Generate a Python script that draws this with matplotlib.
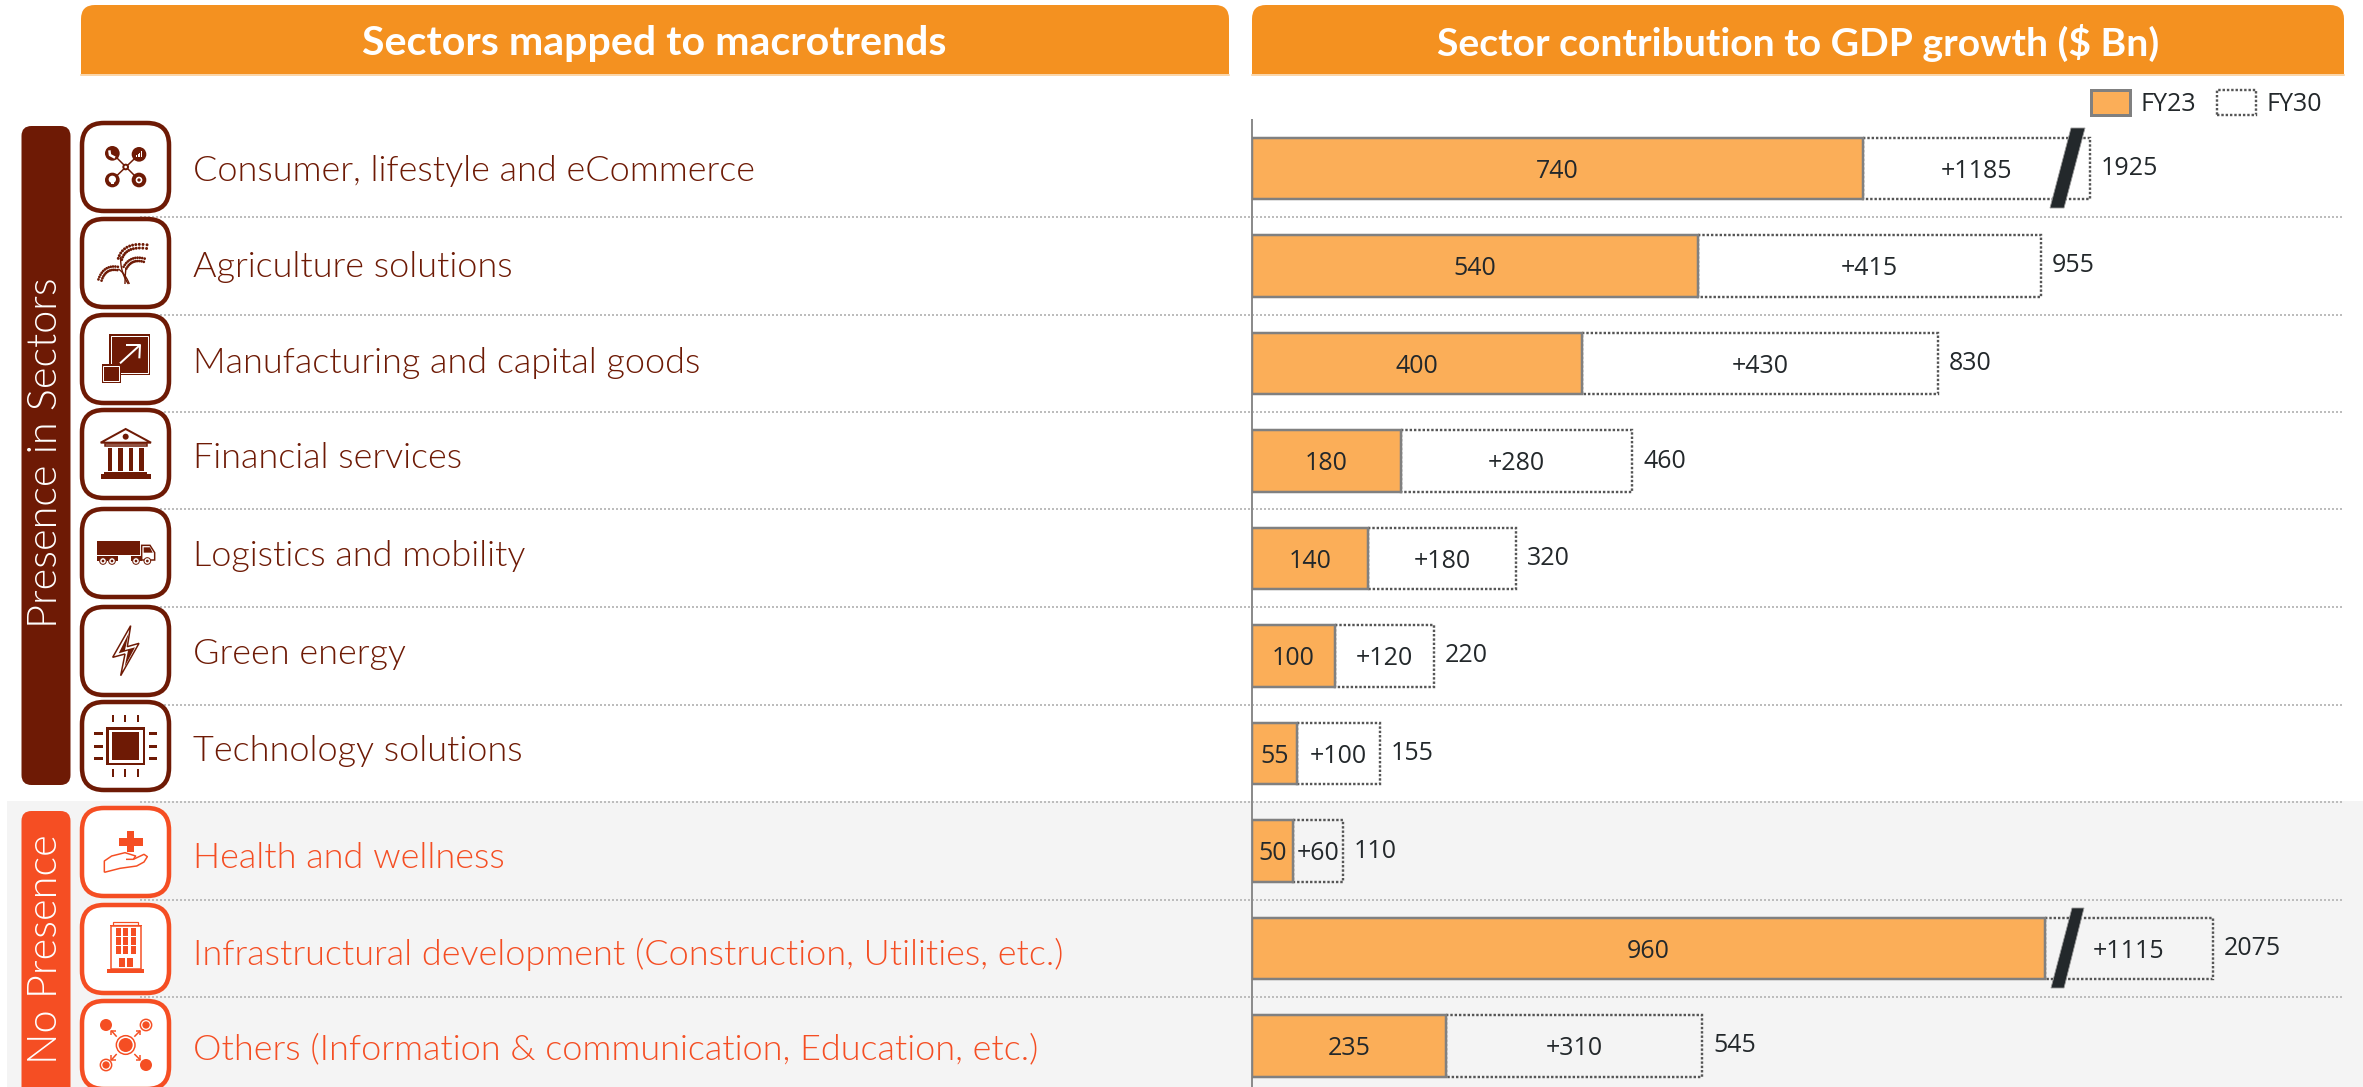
import numpy as np
import matplotlib
matplotlib.use("Agg")
import matplotlib.pyplot as plt
from matplotlib.patches import Rectangle, FancyBboxPatch, Circle, Polygon, PathPatch, Patch
from matplotlib.path import Path
from matplotlib.transforms import Affine2D

# ---------- data ----------
categories = ["Consumer, lifestyle and eCommerce", "Agriculture solutions",
              "Manufacturing and capital goods", "Financial services",
              "Logistics and mobility", "Green energy", "Technology solutions",
              "Health and wellness", "Infrastructural development (Construction, Utilities, etc.)",
              "Others (Information & communication, Education, etc.)"]
fy23 = [740, 540, 400, 180, 140, 100, 55, 50, 960, 235]
increment = [1185, 415, 430, 280, 180, 120, 100, 60, 1115, 310]
fy30 = [1925, 955, 830, 460, 320, 220, 155, 110, 2075, 545]
# the two broken bars are drawn shorter than their true increment
drawn_increment = [274, 415, 430, 280, 180, 120, 100, 60, 203, 310]
group_labels = ["Presence in Sectors", "No Presence"]
headers = ["Sectors mapped to macrotrends", "Sector contribution to GDP growth ($ Bn)"]
series_names = ["FY23", "FY30"]

# ---------- style ----------
W, H = 2363, 1087
DARK = "#6E1A05"
RED = "#F54E23"
HEAD = "#F49120"
BAR = "#FBAE58"
EDGE = "#808080"
INK = "#23282B"
GRID = "#BDBDBD"
LABEL_FONT = ["Lato", "DejaVu Sans"]
VALUE_FONT = ["Open Sans", "DejaVu Sans"]
PX = 0.72

fig = plt.figure(figsize=(W / 100, H / 100), dpi=100, facecolor="white")
pix = fig.add_axes([0, 0, 1, 1], zorder=0)
pix.set_xlim(0, W)
pix.set_ylim(H, 0)
pix.axis("off")

# background band and grid
pix.add_patch(Rectangle((7, 801), W - 7, H - 801, fc="#F4F4F4", ec="none", zorder=0))
for gy in [217, 314.5, 412, 509, 607, 704.5, 802, 900, 997]:
    pix.plot([140, 2342], [gy, gy], color=GRID, lw=2 * PX, ls=(0, (1, 1)), zorder=1)


# headers (rounded top corners only)
def header(x0, x1, y0, y1, r=14):
    k = Path.CURVE3
    verts = [(x0, y1), (x0, y0 + r), (x0, y0), (x0 + r, y0), (x1 - r, y0), (x1, y0), (x1, y0 + r), (x1, y1), (x0, y1)]
    codes = [Path.MOVETO, Path.LINETO, k, k, Path.LINETO, k, k, Path.LINETO, Path.CLOSEPOLY]
    pix.add_patch(PathPatch(Path(verts, codes), fc=HEAD, ec="none", zorder=3))
    pix.plot([x0, x1], [y1 + 0.5, y1 + 0.5], color="#F9C98F", lw=1.5 * PX, zorder=3)


header(81, 1229, 5, 74)
header(1252, 2344, 5, 74)
pix.text(654, 43, headers[0], color="white", fontsize=29.6, fontweight="bold",
         family=LABEL_FONT, ha="center", va="center", zorder=4)
pix.text(1798, 43, headers[1], color="white", fontsize=28.2, fontweight="bold",
         family=LABEL_FONT, ha="center", va="center", zorder=4)

# side tabs
pix.add_patch(FancyBboxPatch((21.5, 126), 49, 659, boxstyle="round,pad=0,rounding_size=10",
                             fc=DARK, ec="none", zorder=3))
pix.add_patch(FancyBboxPatch((21.5, 811), 49, 300, boxstyle="round,pad=0,rounding_size=10",
                             fc=RED, ec="none", zorder=3))
pix.text(46, 453, group_labels[0], color="white", rotation=90, fontsize=29.8, fontweight=300,
         family=LABEL_FONT, ha="center", va="center", zorder=4)
pix.text(46, 949, group_labels[1], color="white", rotation=90, fontsize=30, fontweight=300,
         family=LABEL_FONT, ha="center", va="center", zorder=4)

# icon frames and category labels
box_tops = [121, 217, 313, 408, 507, 605, 700, 806, 903, 999]
label_y = [171, 267, 363, 458, 556, 654, 751, 858, 954, 1049]
for i, (name, top, ly) in enumerate(zip(categories, box_tops, label_y)):
    c = DARK if i < 7 else RED
    pix.add_patch(FancyBboxPatch((82, top + 2), 87, 88, boxstyle="round,pad=0,rounding_size=22",
                                 fc="white", ec=c, lw=4.5 * PX, zorder=3))
    pix.text(193, ly, name, color=c, fontsize=25.9, fontweight=300, family=LABEL_FONT,
             ha="left", va="center", zorder=4)


# ---------- icons, drawn in 3x-zoom coordinates ----------
def tf(oy):
    return Affine2D().scale(1 / 3).translate(70, oy) + pix.transData


def rect(t, x0, y0, x1, y1, fc, ec="none", lw=0):
    pix.add_patch(Rectangle((x0, y0), x1 - x0, y1 - y0, fc=fc, ec=ec, lw=lw * PX, transform=t, zorder=5))


def circ(t, x, y, r, fc, ec="none", lw=0):
    pix.add_patch(Circle((x, y), r, fc=fc, ec=ec, lw=lw * PX, transform=t, zorder=5))


def poly(t, pts, fc="none", ec="none", lw=0, closed=True):
    pix.add_patch(Polygon(pts, closed=closed, fc=fc, ec=ec, lw=lw * PX, transform=t, zorder=5, joinstyle="miter"))


def line(t, pts, c, lw=1.5, z=5):
    p = np.array(pts, dtype=float)
    pix.plot(p[:, 0], p[:, 1], color=c, lw=lw * PX, transform=t, zorder=z, solid_capstyle="butt")


def bez(p0, p1, p2, n):
    s = np.linspace(0, 1, n)[:, None]
    return (1 - s) ** 2 * np.array(p0) + 2 * s * (1 - s) * np.array(p1) + s ** 2 * np.array(p2)


# network
t = tf(115)
line(t, [(127, 115), (207, 195)], DARK, 1.5)
line(t, [(207, 118), (127, 195)], DARK, 1.5)
for x, y in [(127, 115), (207, 118), (127, 195), (207, 195)]:
    circ(t, x, y, 22, DARK)
circ(t, 167, 156, 10, DARK)
circ(t, 167, 156, 4, "white")
line(t, [(118, 106), (120, 120), (135, 128)], "white", 2.5)
for k, hh in enumerate([6, 10, 14, 18]):
    rect(t, 197 + k * 5.5, 127 - hh, 200 + k * 5.5, 127, "white")
circ(t, 127, 193, 11, "white")
rect(t, 122, 202, 132, 208, "white")
circ(t, 207, 195, 10, "white")
circ(t, 207, 195, 5, DARK)

# wheat
t = tf(115)
for ear, size in [(((150, 432), (165, 382), (243, 397)), 5.5),
                  (((165, 458), (185, 422), (230, 438)), 5),
                  (((90, 495), (105, 450), (150, 462)), 5)]:
    pts = bez(*ear, 13)
    d = np.gradient(pts, axis=0)
    nrm = np.c_[-d[:, 1], d[:, 0]] / np.hypot(d[:, 0], d[:, 1])[:, None]
    for p, n_ in zip(pts[:-1], nrm[:-1]):
        circ(t, *(p + size * n_), size * 0.8, DARK)
        circ(t, *(p - size * n_), size * 0.8, DARK)
line(t, bez((175, 507), (150, 470), (152, 425), 12), DARK, 1.4)
line(t, bez((165, 507), (165, 485), (168, 458), 12), DARK, 1.4)
line(t, bez((178, 507), (165, 475), (145, 462), 12), DARK, 1.4)

# expand squares
rect(t, 117, 658, 240, 780, DARK)
poly(t, [(122, 663), (235, 663), (235, 775), (122, 775)], ec="white", lw=1)
rect(t, 95, 747, 152, 803, DARK)
poly(t, [(100, 752), (147, 752), (147, 798), (100, 798)], ec="white", lw=1)
line(t, [(150, 745), (208, 692)], "white", 2)
line(t, [(168, 690), (210, 690), (208, 730)], "white", 2)

# bank
t = tf(400)
poly(t, [(92, 128), (167, 87), (243, 128)], fc="white", ec=DARK, lw=2)
circ(t, 167, 110, 9, DARK)
poly(t, [(105, 131), (230, 131), (230, 139), (105, 139)], fc="white", ec=DARK, lw=1.5)
for x0 in [113, 144, 176, 208]:
    rect(t, x0, 145, x0 + 14, 212, DARK)
rect(t, 103, 216, 232, 222, DARK)
rect(t, 92, 222, 243, 237, DARK)

# truck
rect(t, 81, 422, 211, 466, DARK)
rect(t, 81, 468, 143, 482, DARK)
rect(t, 182, 468, 215, 482, DARK)
poly(t, [(215, 436), (240, 436), (254, 458), (254, 480), (215, 480)], fc="white", ec=DARK, lw=1.5)
poly(t, [(221, 442), (240, 442), (248, 458), (221, 458)], fc=DARK)
for x in [99, 126, 198, 232]:
    circ(t, x, 483, 10, "white", DARK, 1)
    circ(t, x, 483, 4, DARK)

# bolt
outer = [(182, 677), (128, 772), (165, 762), (152, 827), (207, 730), (172, 740)]
poly(t, outer, fc="white", ec=DARK, lw=1.5)
poly(t, [(176, 700), (146, 760), (174, 752), (164, 800), (195, 742), (165, 750)], fc=DARK)

# chip (real pixels)
t = pix.transData
rect(t, 106, 727, 145, 765, DARK)
rect(t, 108.5, 729.5, 142.5, 762.5, "white")
rect(t, 112, 732, 139, 760, DARK)
for x in [113, 125, 138]:
    rect(t, x - 1, 715, x + 1, 722, DARK)
    rect(t, x - 1, 769, x + 1, 777, DARK)
for y in [733, 746, 758]:
    rect(t, 94, y - 1.5, 103, y + 1.5, DARK)
    rect(t, 149, y - 1.5, 157, y + 1.5, DARK)

# health
t = tf(800)
rect(t, 170, 92, 193, 155, RED)
rect(t, 146, 115, 218, 138, RED)
line(t, [(103, 217), (103, 183), (125, 168), (165, 158), (197, 168), (190, 178), (168, 178)], RED, 1.5)
line(t, [(190, 178), (222, 163), (232, 170), (222, 186), (200, 198), (150, 205), (103, 217)], RED, 1.5)

# building
poly(t, [(122, 378), (213, 378), (213, 508), (122, 508)], fc="white", ec=RED, lw=1.5)
poly(t, [(128, 367), (205, 367), (205, 376), (128, 376)], fc="white", ec=RED, lw=1.2)
rect(t, 120, 374, 215, 379, RED)
for y0 in [385, 411, 438]:
    for x0 in [138, 160, 182]:
        rect(t, x0, y0, x0 + 15, y0 + 23, RED)
rect(t, 146, 475, 166, 502, RED)
rect(t, 170, 475, 189, 502, RED)
rect(t, 112, 508, 222, 520, RED)

# spokes
circ(t, 167, 735, 28, "white", RED, 1.5)
circ(t, 167, 735, 21, RED)
for x, y in [(108, 675), (228, 795)]:
    circ(t, x, y, 18, RED)
for x, y in [(228, 675), (108, 795)]:
    circ(t, x, y, 17, "white", RED, 1.5)
    circ(t, x, y, 11, RED)
for (x0, y0), (x1, y1) in [((140, 710), (124, 692)), ((193, 710), (211, 692)),
                           ((140, 762), (124, 780)), ((193, 762), (211, 780))]:
    line(t, [(x0, y0), (x1, y1)], RED, 1.5)
    sx, sy = np.sign(x1 - x0), np.sign(y1 - y0)
    line(t, [(x1 + 0, y1 - sy * 14), (x1, y1), (x1 - sx * 14, y1)], RED, 1.5)

# ---------- bars ----------
ax = fig.add_axes([1252 / W, 0, (W - 1252) / W, 1], zorder=2)
ax.patch.set_alpha(0)
SCALE = 0.826
ROW0, ROW = 168.5, 97.5
ax.set_xlim(0, (W - 1252) / SCALE)
ax.set_ylim((H - ROW0) / ROW, -ROW0 / ROW)
rows = np.arange(len(categories))
BH = 0.626
ax.barh(rows, fy23, height=BH, color=BAR, edgecolor=EDGE, linewidth=2.5 * PX, zorder=3)
ax.barh(rows, drawn_increment, left=fy23, height=BH, facecolor="none", edgecolor="#555555",
        linewidth=2.4 * PX, linestyle=(0, (1, 0.8)), zorder=2)
ax.set_xticks([])
ax.set_yticks([])
for s in ["top", "right", "bottom"]:
    ax.spines[s].set_visible(False)
ax.spines["left"].set_color("#8C8C8C")
ax.spines["left"].set_linewidth(2 * PX)
ax.spines["left"].set_bounds(-0.497, (H - ROW0) / ROW)

for i in rows:
    kw = dict(color=INK, fontsize=18, family=VALUE_FONT, va="center", zorder=6)
    ax.text(fy23[i] / 2, i + 0.03, str(fy23[i]), ha="center", **kw)
    ax.text(fy23[i] + drawn_increment[i] / 2, i + 0.03, f"+{increment[i]}", ha="center", **kw)
    ax.annotate(str(fy30[i]), (fy23[i] + drawn_increment[i], i), xytext=(8, 0),
                textcoords="offset points", ha="left", **kw)

# axis-break slashes
for pts in ([(2071, 128), (2085, 128), (2064, 208), (2050, 208)],
            [(2072, 908), (2084, 908), (2064, 988), (2051, 988)]):
    ax.add_patch(Polygon(pts, closed=True, fc=INK, ec="#9A9A9A", lw=0.6, transform=pix.transData, zorder=7))

# legend
handles = [Patch(fc=BAR, ec=EDGE, lw=3 * PX, label=series_names[0]),
           Patch(fc="none", ec="#555555", lw=2.4 * PX, ls=(0, (1, 0.8)), label=series_names[1])]
leg = ax.legend(handles=handles, loc="upper left", bbox_to_anchor=(2091, 90), bbox_transform=pix.transData,
                ncol=2, frameon=False, borderpad=0, borderaxespad=0, handlelength=1.56, handleheight=1.15,
                handletextpad=0.42, columnspacing=0.85,
                prop={"family": VALUE_FONT, "size": 18})
for txt in leg.get_texts():
    txt.set_color(INK)

fig.savefig("out.png", dpi=100)
